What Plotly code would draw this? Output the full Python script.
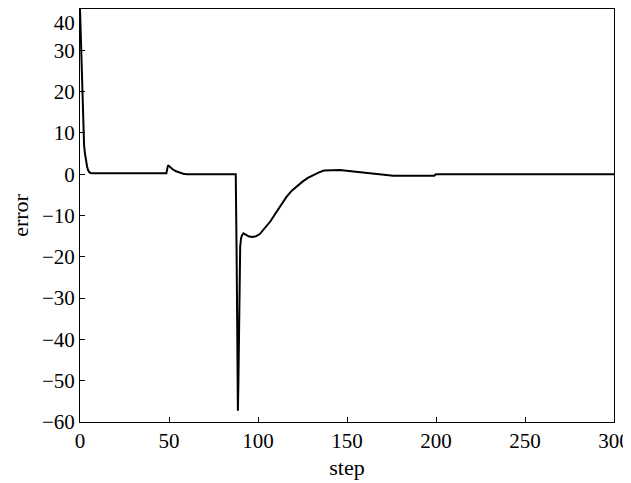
import plotly.graph_objects as go

# Values
steps = [0, 0.4, 0.7, 1.0, 1.3, 1.6, 1.9, 2.3, 2.8, 3.4, 4.0, 4.5, 5.2, 6.0, 7.0, 10, 20, 30, 40, 48.5,
         49.5, 50.5, 52, 54, 56, 58, 60, 70, 80, 87.5,
         88.0, 88.4, 88.7, 89.0, 89.3, 89.6, 90.0, 90.5, 91.0, 91.8, 93, 95, 97, 99, 101,
         104, 107, 110, 113, 116, 119, 122, 125, 128, 131, 134, 137, 141, 146, 151, 157,
         161, 165, 170, 174, 176, 190, 199, 200, 220, 250, 280, 300]
errors = [40, 34, 30, 25, 20, 15, 10, 7, 5, 3, 1.8, 1.0, 0.5, 0.3, 0.2, 0.2, 0.2, 0.2, 0.2, 0.2,
          2.2, 1.8, 1.2, 0.7, 0.3, 0.1, 0.0, 0.0, 0.0, 0.0,
          -20, -45, -57.3, -50, -35, -22, -17.5, -15.5, -14.8, -14.3, -14.6, -15.1, -15.2, -15.0, -14.5,
          -12.9, -11.4, -9.4, -7.3, -5.5, -4.0, -2.8, -1.8, -0.9, -0.2, 0.4, 0.9, 1.0, 1.0, 0.8, 0.5,
          0.3, 0.2, 0.0, -0.3, -0.35, -0.35, -0.35, 0.0, 0.0, 0.0, 0.0, 0.0]

x_ticks = [0, 50, 100, 150, 200, 250, 300]
y_ticks = [-60, -50, -40, -30, -20, -10, 0, 10, 20, 30, 40]
y_tick_text = ["\u221260", "\u221250", "\u221240", "\u221230", "\u221220", "\u221210",
               "0", "10", "20", "30", "<br>40"]

fig = go.Figure()
fig.add_trace(go.Scatter(x=steps, y=errors, mode="lines",
                         line=dict(color="black", width=2), showlegend=False))

family = "Liberation Serif, Times New Roman, serif"
tick_font = dict(family=family, size=21, color="black")
title_font = dict(family=family, size=22, color="black")
axis_common = dict(showgrid=False, zeroline=False, showline=True, linecolor="black",
                   linewidth=1, mirror=True, ticks="inside", ticklen=5,
                   tickcolor="black", tickfont=tick_font, ticklabeloverflow="allow")

fig.update_layout(
    width=623, height=475,
    margin=dict(l=72, r=17, t=1, b=61),
    paper_bgcolor="white", plot_bgcolor="white",
    font=tick_font,
    xaxis=dict(range=[0, 300], tickvals=x_ticks,
               title=dict(text="step", font=title_font, standoff=7), **axis_common),
    yaxis=dict(range=[-60, 40], tickvals=y_ticks, ticktext=y_tick_text,
               title=dict(text="error", font=title_font, standoff=18), **axis_common),
)

fig.write_html("out.html")
